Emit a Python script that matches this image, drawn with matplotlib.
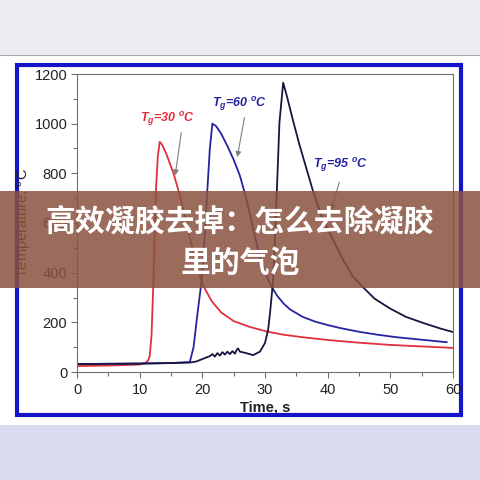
import matplotlib
matplotlib.use('Agg')
import matplotlib.pyplot as plt
from matplotlib.patches import Rectangle

plt.rcParams['font.family'] = ['Liberation Sans', 'DejaVu Sans']
plt.rcParams['mathtext.fontset'] = 'custom'
plt.rcParams['mathtext.rm'] = 'Liberation Sans'
plt.rcParams['mathtext.it'] = 'Liberation Sans:italic:bold'
plt.rcParams['mathtext.bf'] = 'Liberation Sans:bold'

# Tg = 30 C
red_t = [0, 5, 10, 10.9, 11.3, 11.6, 11.9, 12.2, 12.6, 12.9, 13.2, 13.6, 14.3, 15.4, 16.2,
         17.2, 18.2, 19.2, 20.2, 21.5, 23, 25, 27.5, 30.3, 33, 36, 40, 45, 50, 55, 60]
red_T = [24, 26, 30, 36, 45, 62, 150, 370, 733, 870, 927, 915, 875, 800, 730,
         630, 520, 420, 345, 285, 240, 205, 182, 163, 150, 140, 129, 118, 109, 103, 97]

# Tg = 60 C
blue_t = [0, 5, 10, 15, 18, 18.6, 19.2, 19.9, 20.4, 20.8, 21.2, 21.6, 22.2, 23, 24, 25,
          26, 27, 28, 29, 30, 31, 32, 33, 34, 36, 38, 40, 42, 45, 48, 51, 55, 59]
blue_T = [32, 33, 34, 36, 40, 100, 230, 370, 560, 733, 900, 1000, 990, 960, 910, 855,
          790, 700, 590, 480, 400, 345, 305, 275, 252, 222, 203, 189, 177, 162, 150, 140,
          130, 120]

# Tg = 95 C
dark_t = [0, 5, 10, 15, 18, 19, 19.6, 20.4, 21.2, 21.6, 22, 22.4, 22.8, 23.2, 23.6, 24,
          24.4, 24.8, 25.2, 25.5, 25.7, 26, 27, 28.1, 29.2, 30, 30.5, 30.8, 31.3, 31.9,
          32.3, 32.9, 33.5, 34.5, 35.5, 36.6, 37.7, 39, 40.9, 42.5, 44, 45.7, 47.5, 50,
          52.5, 55.3, 58, 60]
dark_T = [32, 33, 34, 36, 38, 42, 48, 56, 64, 72, 62, 76, 66, 80, 70, 82,
          72, 84, 74, 90, 95, 82, 76, 68, 82, 117, 170, 237, 370, 733,
          1003, 1165, 1110, 1010, 915, 820, 725, 630, 530, 450, 385, 340, 295, 255,
          222, 197, 175, 161]

fig = plt.figure(figsize=(4.8, 4.8), dpi=100, facecolor='white')

# page background bits
fig.patches.append(Rectangle((0, 0.885), 1, 0.115, transform=fig.transFigure,
                             facecolor='#ececf0', edgecolor='none', zorder=-5))
fig.patches.append(Rectangle((0, 0), 1, 0.115, transform=fig.transFigure,
                             facecolor='#dadaf0', edgecolor='none', zorder=-5))
fig.lines.append(plt.Line2D([0, 1], [0.885, 0.885], transform=fig.transFigure,
                            color='#a8a8b0', lw=0.8, zorder=-4))
fig.patches.append(Rectangle((16.5 / 480, 1 - 414.7 / 480), 444.5 / 480, 350 / 480,
                             transform=fig.transFigure, facecolor='none',
                             edgecolor='#1414c8', lw=3, zorder=-3))

ax = fig.add_axes([77 / 480, 1 - 372 / 480, 376 / 480, 298 / 480])
ax.plot(red_t, red_T, color='#e0303c', lw=1.3)
ax.plot(blue_t, blue_T, color='#2424a0', lw=1.3)
ax.plot(dark_t, dark_T, color='#16163e', lw=1.3)

ax.set_xlim(0, 60)
ax.set_ylim(0, 1200)
ax.set_xticks(range(0, 61, 10))
ax.set_xticks(range(5, 60, 10), minor=True)
ax.set_yticks(range(0, 1201, 200))
ax.set_yticks(range(100, 1200, 200), minor=True)
for s in ax.spines.values():
    s.set_color('#707070')
    s.set_linewidth(0.8)
ax.tick_params(which='major', direction='out', length=4, width=0.8, color='#707070',
               labelsize=10.5, labelcolor='#222222')
ax.tick_params(which='minor', direction='out', length=3, width=0.8, color='#707070')
ax.tick_params(axis='y', pad=3)
ax.tick_params(axis='x', pad=4)

ax.set_xlabel('Time, s', fontsize=10.5, fontweight='bold', color='#222222', va='top')
ax.xaxis.set_label_coords(0.5, -0.094)
ax.set_ylabel('Temperature, $^\\mathrm{o}$C', fontsize=10.5, color='#222222')
ax.yaxis.set_label_coords(-0.114, 0.5)

anno = dict(fontsize=9, fontweight='bold', style='italic', ha='center', va='center')
arrow = dict(arrowstyle='-|>', color='#808080', lw=0.8, mutation_scale=8)
ax.text(14.5, 1019, '$T_g$=30 $^\\mathit{o}$C', color='#e0303c', **anno)
ax.annotate('', xy=(15.6, 780), xytext=(16.7, 975), arrowprops=arrow)
ax.text(26.0, 1079, '$T_g$=60 $^\\mathit{o}$C', color='#2424a0', **anno)
ax.annotate('', xy=(25.5, 854), xytext=(26.8, 1036), arrowprops=arrow)
ax.text(42.0, 834, '$T_g$=95 $^\\mathit{o}$C', color='#2424a0', **anno)
ax.annotate('', xy=(40.4, 640), xytext=(42.0, 775), arrowprops=arrow)

# overlay banner
fig.patches.append(Rectangle((0, 1 - 288 / 480), 1, 97 / 480, transform=fig.transFigure,
                             facecolor='#8a523f', edgecolor='none', alpha=0.85, zorder=5))
cjk = ['Noto Sans CJK SC', 'DejaVu Sans']
fig.text(0.5, 1 - 222 / 480, '高效凝胶去掉：怎么去除凝胶', family=cjk, fontsize=21.5,
         fontweight='bold', color='white', ha='center', va='center', zorder=6)
fig.text(0.5, 1 - 263 / 480, '里的气泡', family=cjk, fontsize=21.5,
         fontweight='bold', color='white', ha='center', va='center', zorder=6)

fig.savefig('out.png', dpi=100, facecolor='white')
